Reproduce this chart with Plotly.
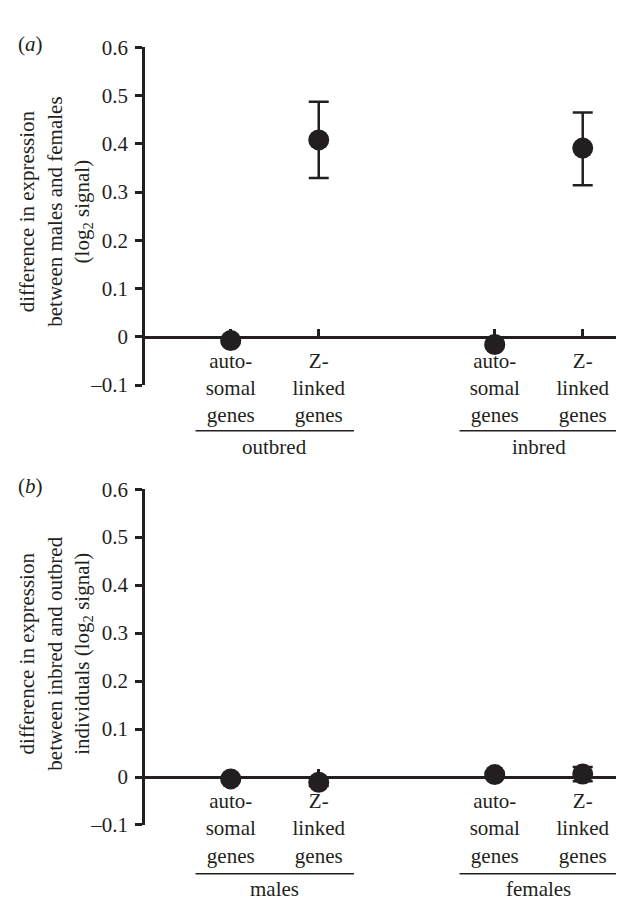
import plotly.graph_objects as go

# ---- data ----
cat_labels = ["auto-<br>somal<br>genes", "Z-<br>linked<br>genes",
              "auto-<br>somal<br>genes", "Z-<br>linked<br>genes"]
cat_pos = [1, 2, 4, 5]

groups_a = ["outbred", "inbred"]
vals_a = [-0.008, 0.408, -0.016, 0.391]
err_a_up = [0.004, 0.079, 0.004, 0.074]
err_a_dn = [0.004, 0.079, 0.004, 0.077]

groups_b = ["males", "females"]
vals_b = [-0.004, -0.011, 0.005, 0.006]
err_b_up = [0.004, 0.008, 0.004, 0.015]
err_b_dn = [0.004, 0.008, 0.004, 0.015]

y_ticks = [-0.1, 0, 0.1, 0.2, 0.3, 0.4, 0.5, 0.6]
y_ticktext = ["\u20130.1", "0", "0.1", "0.2", "0.3", "0.4", "0.5", "0.6"]

title_a = "difference in expression<br>between males and females<br>(log<sub>2</sub> signal)"
title_b = "difference in expression<br>between inbred and outbred<br>individuals (log<sub>2</sub> signal)"

# ---- style ----
W, H = 624, 901
INK = "#231f20"
FONT = "Liberation Serif, Times New Roman, serif"
FS = 21

def py(pix):
    return 1 - pix / H

x_dom = [135 / W, 1.0]
y_rng = [-0.1, 0.6]
x_rng = [0.003, 5.56]
dom_a = [py(375), py(28)]
dom_b = [py(827), py(482)]

def zero_pos(dom):
    return dom[0] + (0 - y_rng[0]) / (y_rng[1] - y_rng[0]) * (dom[1] - dom[0])

fig = go.Figure()

for vals, up, dn, xa, ya in [(vals_a, err_a_up, err_a_dn, "x", "y"),
                             (vals_b, err_b_up, err_b_dn, "x2", "y2")]:
    fig.add_trace(go.Scatter(
        x=cat_pos, y=vals, mode="markers", xaxis=xa, yaxis=ya,
        marker=dict(size=21, color=INK),
        error_y=dict(type="data", array=up, arrayminus=dn, symmetric=False,
                     color=INK, thickness=2.5, width=10),
        showlegend=False, cliponaxis=False,
    ))

common_x = dict(range=x_rng, showline=True, linecolor=INK, linewidth=2.5,
                ticks="inside", ticklen=7, tickwidth=2.5, tickcolor=INK,
                tickvals=cat_pos, ticktext=cat_labels, showgrid=False,
                zeroline=False, anchor="free", domain=x_dom,
                tickfont=dict(family=FONT, size=FS, color=INK),
                ticklabelstandoff=4)
common_y = dict(range=y_rng, showline=True, linecolor=INK, linewidth=2.7,
                ticks="outside", ticklen=7, tickwidth=2.5, tickcolor=INK,
                tickvals=y_ticks, ticktext=y_ticktext, showgrid=False,
                zeroline=False, tickfont=dict(family=FONT, size=FS, color=INK),
                anchor="free", position=x_dom[0], ticklabelstandoff=3)

fig.update_layout(
    width=W, height=H,
    margin=dict(l=0, r=0, t=0, b=0),
    paper_bgcolor="white", plot_bgcolor="white",
    xaxis=dict(common_x, position=zero_pos(dom_a)),
    yaxis=dict(common_y, domain=dom_a),
    xaxis2=dict(common_x, position=zero_pos(dom_b)),
    yaxis2=dict(common_y, domain=dom_b),
)

annotations = []
shapes = []
for groups, xref, line_px, lab_px, title, tcen_px, plab_px, plab in [
        (groups_a, "x", 422, 439, title_a, 197, 25, "(<i>a</i>)"),
        (groups_b, "x2", 877, 893, title_b, 651, 479, "(<i>b</i>)")]:
    for gi, g in enumerate(groups):
        x0 = cat_pos[2 * gi] - 0.4
        x1 = cat_pos[2 * gi + 1] + 0.4
        shapes.append(dict(type="line", xref=xref, yref="paper",
                           x0=x0, x1=x1, y0=py(line_px), y1=py(line_px),
                           line=dict(color=INK, width=1.5)))
        annotations.append(dict(text=g, xref=xref, yref="paper",
                                x=(cat_pos[2 * gi] + cat_pos[2 * gi + 1]) / 2,
                                y=py(lab_px), xanchor="center", yanchor="middle",
                                showarrow=False,
                                font=dict(family=FONT, size=FS, color=INK)))
    annotations.append(dict(text=title, xref="paper", yref="paper",
                            x=48 / W, y=py(tcen_px), xanchor="center",
                            yanchor="middle", textangle=-90, showarrow=False,
                            font=dict(family=FONT, size=FS, color=INK)))
    annotations.append(dict(text=plab, xref="paper", yref="paper",
                            x=22 / W, y=py(plab_px), xanchor="center",
                            yanchor="middle", showarrow=False,
                            font=dict(family=FONT, size=FS, color=INK)))

fig.update_layout(annotations=annotations, shapes=shapes)

fig.write_html("out.html")
